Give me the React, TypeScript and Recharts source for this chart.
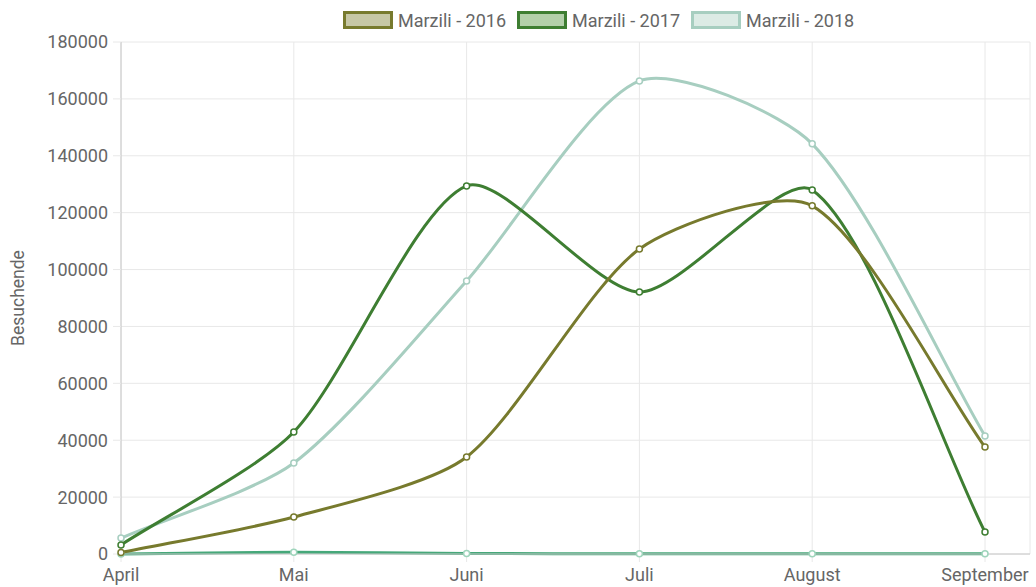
import React from "react";
import {
  LineChart,
  Line,
  XAxis,
  YAxis,
  CartesianGrid,
  Legend,
  Label,
} from "recharts";

const months = ["April", "Mai", "Juni", "Juli", "August", "September"];
const visitors2016 = [500, 13000, 34100, 107200, 122400, 37600];
const visitors2017 = [3200, 42900, 129400, 92100, 128000, 7700];
const visitors2018 = [5600, 32000, 96000, 166300, 144200, 41500];
const visitorsOther = [0, 600, 200, 100, 100, 100];
const yTicks = [0, 20000, 40000, 60000, 80000, 100000, 120000, 140000, 160000, 180000];

const data = months.map((m, i) => ({
  month: m,
  y2016: visitors2016[i],
  y2017: visitors2017[i],
  y2018: visitors2018[i],
  other: visitorsOther[i],
}));

const SERIES = [
  { key: "y2016", label: "Marzili - 2016", stroke: "#777a2d", fill: "#c6c7a5" },
  { key: "y2017", label: "Marzili - 2017", stroke: "#3e7e32", fill: "#b3d0aa" },
  { key: "y2018", label: "Marzili - 2018", stroke: "#a7cec0", fill: "#dcebe5" },
];

const FONT = "Roboto, 'Noto Sans', sans-serif";
const TEXT = "#666";
const GRID = "#e8e8e8";

// spline like Chart.js, a bit less tension
function chartJsCurve(context: any) {
  let pts: [number, number][] = [];
  const t = 0.25;
  return {
    areaStart() {},
    areaEnd() {},
    lineStart() {
      pts = [];
    },
    point(x: number, y: number) {
      pts.push([+x, +y]);
    },
    lineEnd() {
      const n = pts.length;
      if (!n) return;
      const cps = pts.map((cur, i) => {
        const prev = pts[i - 1] || cur;
        const next = pts[i + 1] || cur;
        const d01 = Math.hypot(cur[0] - prev[0], cur[1] - prev[1]);
        const d12 = Math.hypot(next[0] - cur[0], next[1] - cur[1]);
        let s01 = d01 / (d01 + d12);
        let s12 = d12 / (d01 + d12);
        if (isNaN(s01)) s01 = 0;
        if (isNaN(s12)) s12 = 0;
        const fa = t * s01;
        const fb = t * s12;
        return {
          p: [cur[0] - fa * (next[0] - prev[0]), cur[1] - fa * (next[1] - prev[1])],
          n: [cur[0] + fb * (next[0] - prev[0]), cur[1] + fb * (next[1] - prev[1])],
        };
      });
      context.moveTo(pts[0][0], pts[0][1]);
      for (let i = 0; i < n - 1; i++) {
        context.bezierCurveTo(
          cps[i].n[0],
          cps[i].n[1],
          cps[i + 1].p[0],
          cps[i + 1].p[1],
          pts[i + 1][0],
          pts[i + 1][1]
        );
      }
    },
  };
}

function LegendBoxes() {
  return (
    <div
      style={{
        height: 40,
        display: "flex",
        alignItems: "center",
        paddingLeft: 343,
        fontFamily: FONT,
        fontSize: 18,
        color: TEXT,
      }}
    >
      {SERIES.map((s) => (
        <div key={s.key} style={{ display: "flex", alignItems: "center", marginRight: 11 }}>
          <span
            style={{
              display: "inline-block",
              width: 44,
              height: 12,
              background: s.fill,
              border: `3px solid ${s.stroke}`,
              marginRight: 5,
            }}
          />
          <span>{s.label}</span>
        </div>
      ))}
    </div>
  );
}

export default function App() {
  const tick = { fontSize: 18, fill: TEXT, fontFamily: FONT };
  return (
    <div style={{ position: "absolute", left: 0, top: 0, width: 1036, height: 587, background: "#fff" }}>
      <LineChart
        width={1036}
        height={587}
        data={data}
        margin={{ top: 2, right: 6, left: 0, bottom: 3 }}
      >
        <CartesianGrid stroke={GRID} strokeWidth={1} />
        <XAxis
          dataKey="month"
          tick={tick}
          tickSize={8}
          tickMargin={6}
          height={30}
          padding={{ left: 0, right: 45 }}
          axisLine={{ stroke: "#c8c8c8" }}
          tickLine={{ stroke: GRID }}
          interval={0}
        />
        <YAxis
          domain={[0, 180000]}
          ticks={yTicks}
          width={121}
          tick={tick}
          tickSize={8}
          tickMargin={5}
          axisLine={{ stroke: "#c8c8c8" }}
          tickLine={{ stroke: GRID }}
          interval={0}
        >
          <Label
            content={(props: any) => {
              const vb = props.viewBox || { x: 0, y: 0, height: 0 };
              const cx = vb.x + 18;
              const cy = vb.y + vb.height / 2;
              return (
                <text
                  x={cx}
                  y={cy}
                  transform={`rotate(-90 ${cx} ${cy})`}
                  textAnchor="middle"
                  dominantBaseline="central"
                  fontSize={17.5}
                  fill={TEXT}
                  fontFamily={FONT}
                >
                  Besuchende
                </text>
              );
            }}
          />
        </YAxis>
        <Legend verticalAlign="top" content={() => <LegendBoxes />} wrapperStyle={{ top: 0, left: 0, width: 1036 }} />
        <Line
          dataKey="other"
          type={chartJsCurve as any}
          stroke="#46a87a"
          strokeWidth={3}
          dot={{ r: 3, fill: "#fff", stroke: "#9fd5bc", strokeWidth: 1.5 }}
          legendType="none"
          isAnimationActive={false}
        />
        {[...SERIES].reverse().map((s) => (
          <Line
            key={s.key}
            dataKey={s.key}
            name={s.label}
            type={chartJsCurve as any}
            stroke={s.stroke}
            strokeWidth={3}
            dot={{ r: 3, fill: "#fff", stroke: s.stroke, strokeWidth: 1.5 }}
            isAnimationActive={false}
          />
        ))}
      </LineChart>
    </div>
  );
}
